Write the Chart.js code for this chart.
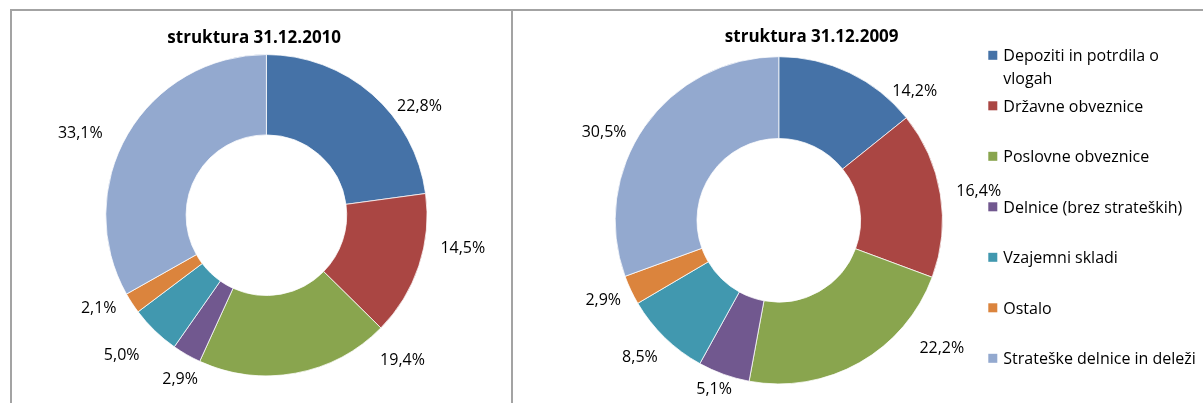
<!DOCTYPE html>
<html>
<head>
<meta charset="utf-8">
<script src="https://cdn.jsdelivr.net/npm/chart.js@4.4.1/dist/chart.umd.min.js"></script>
<style>
  html, body { margin: 0; padding: 0; background: #fff; }
  body { position: relative; width: 1203px; height: 403px; overflow: hidden; }
  .frame { position: absolute; left: 10px; top: 9px; width: 1200px; height: 400px;
           border-top: 2px solid #a3a3a3; border-left: 2px solid #a3a3a3; }
  .divider { position: absolute; left: 511px; top: 9px; width: 2px; height: 394px; background: #a3a3a3; }
  canvas { position: absolute; }
  #chart2010 { left: 12px; top: 11px; }
  #chart2009 { left: 513px; top: 11px; }
</style>
</head>
<body>
<div class="frame"></div>
<div class="divider"></div>
<canvas id="chart2010" width="499" height="392"></canvas>
<canvas id="chart2009" width="690" height="392"></canvas>

<script>
//data
const categories = [
  'Depoziti in potrdila o vlogah',
  'Državne obveznice',
  'Poslovne obveznice',
  'Delnice (brez strateških)',
  'Vzajemni skladi',
  'Ostalo',
  'Strateške delnice in deleži'
];
const share2010 = [22.8, 14.5, 19.4, 2.9, 5.0, 2.1, 33.1];
const share2009 = [14.2, 16.4, 22.2, 5.1, 8.5, 2.9, 30.5];
const title2010 = 'struktura 31.12.2010';
const title2009 = 'struktura 31.12.2009';

const colors = ['#4572A7', '#AA4643', '#89A54E', '#71588F', '#4198AF', '#DB843D', '#93A9CF'];
const FONT = '"Open Sans", sans-serif';

// label placement around each slice: [degrees off the slice middle, distance as part of radius]
const shift2010 = [[13.1, 1.175], [-9.1, 1.239], [-33.0, 1.232], [-1.9, 1.149], [2.2, 1.248], [4.4, 1.191], [-6.4, 1.267]];
const shift2009 = [[20.7, 1.149], [0.8, 1.235], [-22.5, 1.263], [1.4, 1.101], [1.5, 1.186], [1.0, 1.177], [-8.0, 1.198]];

//percent labels outside the ring
const pctLabels = {
  id: 'pctLabels',
  afterDatasetsDraw(chart, args, opts) {
    const ctx = chart.ctx;
    const meta = chart.getDatasetMeta(0);
    const values = chart.data.datasets[0].data;
    ctx.save();
    ctx.font = '16px ' + FONT;
    ctx.fillStyle = '#000';
    ctx.textAlign = 'center';
    ctx.textBaseline = 'alphabetic';
    meta.data.forEach(function(arc, i){
      const p = arc.getProps(['x', 'y', 'startAngle', 'endAngle', 'outerRadius'], true);
      const s = opts.shift[i];
      const a = (p.startAngle + p.endAngle) / 2 + s[0] * Math.PI / 180;
      const r = p.outerRadius * s[1];
      const txt = values[i].toFixed(1).replace('.', ',') + '%';
      ctx.fillText(txt, p.x + r * Math.cos(a), p.y + r * Math.sin(a) + 5.7);
    });
    ctx.restore();
  }
};

//chart heading, drawn at a fixed spot
const heading = {
  id: 'heading',
  afterDraw(chart, args, opts) {
    const ctx = chart.ctx;
    ctx.save();
    ctx.font = 'bold 17px ' + FONT;
    ctx.fillStyle = '#000';
    ctx.textAlign = 'center';
    ctx.textBaseline = 'alphabetic';
    ctx.fillText(opts.text, opts.x, opts.y);
    ctx.restore();
  }
};

//legend at the right side, one entry every 50px
const sideLegend = {
  id: 'sideLegend',
  afterDraw(chart, args, opts) {
    if (!opts.show) return;
    const ctx = chart.ctx;
    const ds = chart.data.datasets[0];
    ctx.save();
    ctx.font = '16px ' + FONT;
    ctx.textAlign = 'left';
    ctx.textBaseline = 'alphabetic';
    chart.data.labels.forEach(function(label, i){
      const cy = opts.top + i * opts.step;
      ctx.fillStyle = ds.backgroundColor[i];
      ctx.fillRect(opts.x, cy - 4.5, 9, 9);
      // wrap long names
      const words = label.split(' ');
      let lines = [], line = '';
      words.forEach(function(w){
        const test = line ? line + ' ' + w : w;
        if (ctx.measureText(test).width > opts.maxWidth && line) {
          lines.push(line);
          line = w;
        } else {
          line = test;
        }
      });
      lines.push(line);
      ctx.fillStyle = '#000';
      lines.forEach(function(l, j){
        ctx.fillText(l, opts.x + 15, cy + 5.7 + j * 23);
      });
    });
    ctx.restore();
  }
};

function drawDonut(id, values, title, shift, pad, headPos, legend) {
  new Chart(document.getElementById(id), {
    type: 'doughnut',
    data: {
      labels: categories,
      datasets: [{
        data: values,
        backgroundColor: colors,
        borderColor: '#fff',
        borderWidth: 0.75
      }]
    },
    options: {
      responsive: false,
      animation: false,
      events: [],
      cutout: '50%',
      layout: { padding: pad },
      plugins: {
        legend: { display: false },
        tooltip: { enabled: false },
        pctLabels: { shift: shift },
        heading: { text: title, x: headPos[0], y: headPos[1] },
        sideLegend: legend
      }
    },
    plugins: [pctLabels, heading, sideLegend]
  });
}

//Start left chart
drawDonut('chart2010', share2010, title2010, shift2010,
  { left: 93.4, right: 83.6, top: 43.2, bottom: 26.8 }, [242.2, 32.3], { show: false });
//End left chart

//Start right chart
drawDonut('chart2009', share2009, title2009, shift2009,
  { left: 101.8, right: 260.2, top: 45.3, bottom: 18.7 }, [298.7, 30.7],
  { show: true, x: 475.3, top: 44.3, step: 50.5, maxWidth: 198 });
//End right chart
</script>
</body>
</html>
